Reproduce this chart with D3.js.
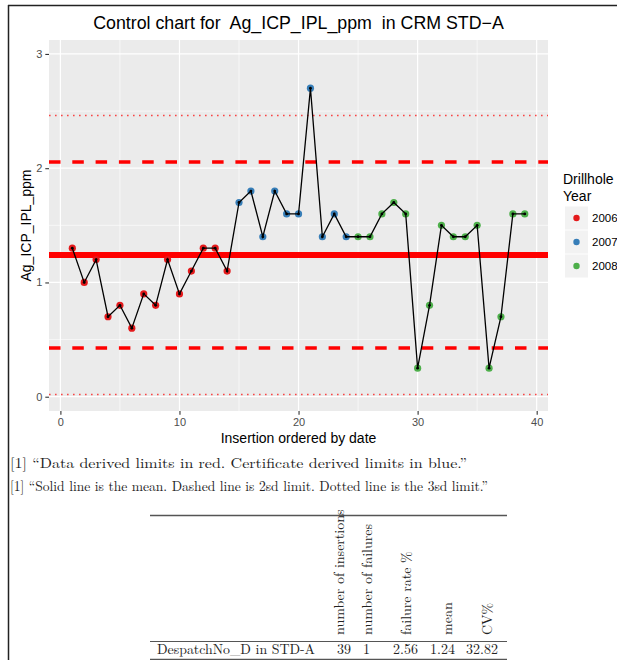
<!DOCTYPE html>
<html>
<head>
<meta charset="utf-8">
<script src="https://cdn.jsdelivr.net/npm/d3@7"></script>
<style>
  html, body { margin: 0; padding: 0; background: #fff; }
  svg { display: block; }
</style>
</head>
<body>
<svg id="chart" width="617" height="660"></svg>
<script>
// Insertion order and measured Ag values for CRM STD-A
const insertion = d3.range(1, 40);
const agValues = [
  1.3, 1.0, 1.2, 0.7, 0.8, 0.6, 0.9, 0.8, 1.2, 0.9,
  1.1, 1.3, 1.3, 1.1, 1.7, 1.8, 1.4, 1.8, 1.6, 1.6,
  2.7, 1.4, 1.6, 1.4, 1.4, 1.4, 1.6, 1.7, 1.6, 0.25,
  0.8, 1.5, 1.4, 1.4, 1.5, 0.25, 0.7, 1.6, 1.6
];
const drillYear = [
  "2006","2006","2006","2006","2006","2006","2006","2006","2006","2006",
  "2006","2006","2006","2006","2007","2007","2007","2007","2007","2007",
  "2007","2007","2007","2007","2008","2008","2008","2008","2008","2008",
  "2008","2008","2008","2008","2008","2008","2008","2008","2008"
];
const years = ["2006", "2007", "2008"];
const yearColours = ["#E41A1C", "#377EB8", "#4DAF4A"];

// Summary statistics (table row)
const tableColumns = ["number of insertions", "number of failures", "failure rate %", "mean", "CV%"];
const tableRowLabel = "DespatchNo_D in STD-A";
const tableValues = ["39", "1", "2.56", "1.24", "32.82"];
const meanValue = 1.24;
const cvPercent = 32.82;
const sdValue = meanValue * cvPercent / 100;

const xTicks = [0, 10, 20, 30, 40];
const xMinor = [5, 15, 25, 35];
const yTicks = [0, 1, 2, 3];
const yMinor = [0.5, 1.5, 2.5];

const notes = [
  "[1] \u201cData derived limits in red. Certificate derived limits in blue.\u201d",
  "[1] \u201cSolid line is the mean. Dashed line is 2sd limit. Dotted line is the 3sd limit.\u201d"
];
const noteWidths = [457, 478];

const svg = d3.select("#chart");
const sans = "'Liberation Sans', Arial, Helvetica, sans-serif";
const serif = "'Latin Modern Roman', 'Liberation Serif', 'Times New Roman', serif";

// page frame
svg.append("line").attr("x1", 8.5).attr("x2", 8.5).attr("y1", 5).attr("y2", 660)
  .attr("stroke", "#222").attr("stroke-width", 1.5);
svg.append("line").attr("x1", 8).attr("x2", 617).attr("y1", 5.5).attr("y2", 5.5)
  .attr("stroke", "#222").attr("stroke-width", 1.5);

const panel = { left: 49, right: 548, top: 40, bottom: 411 };
const x = d3.scaleLinear().domain([-0.957, 40.95]).range([panel.left, panel.right]);
const y = d3.scaleLinear().domain([-0.125, 3.122]).range([panel.bottom, panel.top]);

// panel background
svg.append("rect").attr("x", panel.left).attr("y", panel.top)
  .attr("width", panel.right - panel.left).attr("height", panel.bottom - panel.top)
  .attr("fill", "#EBEBEB");

const grid = svg.append("g");
grid.selectAll(".xminor").data(xMinor).join("line")
  .attr("x1", d => x(d)).attr("x2", d => x(d)).attr("y1", panel.top).attr("y2", panel.bottom)
  .attr("stroke", "#fff").attr("stroke-width", 0.6);
grid.selectAll(".yminor").data(yMinor).join("line")
  .attr("y1", d => y(d)).attr("y2", d => y(d)).attr("x1", panel.left).attr("x2", panel.right)
  .attr("stroke", "#fff").attr("stroke-width", 0.6);
grid.selectAll(".xmajor").data(xTicks).join("line")
  .attr("x1", d => x(d)).attr("x2", d => x(d)).attr("y1", panel.top).attr("y2", panel.bottom)
  .attr("stroke", "#fff").attr("stroke-width", 1.2);
grid.selectAll(".ymajor").data(yTicks).join("line")
  .attr("y1", d => y(d)).attr("y2", d => y(d)).attr("x1", panel.left).attr("x2", panel.right)
  .attr("stroke", "#fff").attr("stroke-width", 1.2);

// control limits: mean, 2sd and 3sd
const limits = [
  { v: meanValue, w: 6, dash: null, op: 1 },
  { v: meanValue + 2 * sdValue, w: 3.5, dash: "11.5,11.8", op: 1 },
  { v: meanValue - 2 * sdValue, w: 3.5, dash: "11.5,11.8", op: 1 },
  { v: meanValue + 3 * sdValue, w: 1.6, dash: "1.6,4.4", op: 0.7 },
  { v: meanValue - 3 * sdValue, w: 1.6, dash: "1.6,4.4", op: 0.7 }
];
svg.append("g").selectAll("line").data(limits).join("line")
  .attr("x1", panel.left).attr("x2", panel.right)
  .attr("y1", d => y(d.v)).attr("y2", d => y(d.v))
  .attr("stroke", "#FF0000").attr("stroke-width", d => d.w)
  .attr("stroke-dasharray", d => d.dash).attr("opacity", d => d.op);

const pts = insertion.map((n, i) => ({ n, v: agValues[i], yr: drillYear[i] }));
const colour = d3.scaleOrdinal().domain(years).range(yearColours);

svg.append("g").selectAll("circle").data(pts).join("circle")
  .attr("cx", d => x(d.n)).attr("cy", d => y(d.v)).attr("r", 3.6)
  .attr("fill", d => colour(d.yr));

svg.append("path").datum(pts)
  .attr("d", d3.line().x(d => x(d.n)).y(d => y(d.v)))
  .attr("fill", "none").attr("stroke", "#000").attr("stroke-width", 1.3);

svg.append("g").selectAll("circle").data(pts).join("circle")
  .attr("cx", d => x(d.n)).attr("cy", d => y(d.v)).attr("r", 1.4)
  .attr("fill", "#000");

// axes
const xAxis = svg.append("g").attr("transform", `translate(0,${panel.bottom})`)
  .call(d3.axisBottom(x).tickValues(xTicks).tickFormat(d3.format("d")).tickSize(3.7).tickPadding(3));
const yAxis = svg.append("g").attr("transform", `translate(${panel.left},0)`)
  .call(d3.axisLeft(y).tickValues(yTicks).tickFormat(d3.format("d")).tickSize(3.7).tickPadding(3));
[xAxis, yAxis].forEach(a => {
  a.select(".domain").remove();
  a.selectAll(".tick line").attr("stroke", "#333").attr("stroke-width", 1.1);
  a.selectAll(".tick text").attr("fill", "#4D4D4D").attr("font-size", 11).attr("font-family", sans);
});

svg.append("text").attr("x", (panel.left + panel.right) / 2).attr("y", 443)
  .attr("text-anchor", "middle").attr("font-family", sans).attr("font-size", 14)
  .attr("fill", "#000").text("Insertion ordered by date");
svg.append("text").attr("transform", `translate(31,${(panel.top + panel.bottom) / 2}) rotate(-90)`)
  .attr("text-anchor", "middle").attr("font-family", sans).attr("font-size", 14)
  .attr("fill", "#000").text("Ag_ICP_IPL_ppm");
svg.append("text").attr("x", (panel.left + panel.right) / 2).attr("y", 29)
  .attr("text-anchor", "middle").attr("font-family", sans).attr("font-size", 17.8)
  .attr("fill", "#000").attr("xml:space", "preserve")
  .text("Control chart for  Ag_ICP_IPL_ppm  in CRM STD\u2212A");

// legend
const lg = svg.append("g");
lg.append("text").attr("x", 563).attr("y", 184).attr("font-family", sans).attr("font-size", 14)
  .text("Drillhole");
lg.append("text").attr("x", 563).attr("y", 201).attr("font-family", sans).attr("font-size", 14)
  .text("Year");
const keyY = d3.scalePoint().domain(years).range([218, 266]);
lg.selectAll("rect").data(years).join("rect")
  .attr("x", 565).attr("y", d => keyY(d) - 11.5).attr("width", 23).attr("height", 23)
  .attr("fill", "#F2F2F2");
lg.selectAll("circle").data(years).join("circle")
  .attr("cx", 576.5).attr("cy", d => keyY(d)).attr("r", 3.2).attr("fill", d => colour(d));
lg.selectAll(".lab").data(years).join("text")
  .attr("x", 592).attr("y", d => keyY(d) + 4).attr("font-family", sans).attr("font-size", 11.5)
  .attr("fill", "#000").text(d => d);

// printed notes
svg.selectAll(".note").data(notes).join("text")
  .attr("x", 10).attr("y", (d, i) => 468 + i * 23)
  .attr("font-family", serif).attr("font-size", 14).attr("fill", "#222")
  .attr("textLength", (d, i) => noteWidths[i]).attr("lengthAdjust", "spacingAndGlyphs")
  .text(d => d);

// summary table
const tb = svg.append("g").attr("font-family", serif).attr("font-size", 14).attr("fill", "#222");
tb.append("line").attr("x1", 150).attr("x2", 507).attr("y1", 515.5).attr("y2", 515.5)
  .attr("stroke", "#555").attr("stroke-width", 1.4);
tb.append("line").attr("x1", 150).attr("x2", 507).attr("y1", 641.5).attr("y2", 641.5)
  .attr("stroke", "#555").attr("stroke-width", 1);
tb.append("line").attr("x1", 150).attr("x2", 507).attr("y1", 659.5).attr("y2", 659.5)
  .attr("stroke", "#555").attr("stroke-width", 1.4);
const headX = [344, 372, 411, 452, 492];
const colRight = [351, 370, 418, 455, 498];
tb.selectAll(".hd").data(tableColumns).join("text")
  .attr("transform", (d, i) => `translate(${headX[i]},635) rotate(-90)`)
  .text(d => d);
tb.append("text").attr("x", 157).attr("y", 654)
  .attr("textLength", 158).attr("lengthAdjust", "spacingAndGlyphs").text(tableRowLabel);
tb.selectAll(".val").data(tableValues).join("text")
  .attr("x", (d, i) => colRight[i]).attr("y", 654).attr("text-anchor", "end")
  .text(d => d);
</script>
</body>
</html>
